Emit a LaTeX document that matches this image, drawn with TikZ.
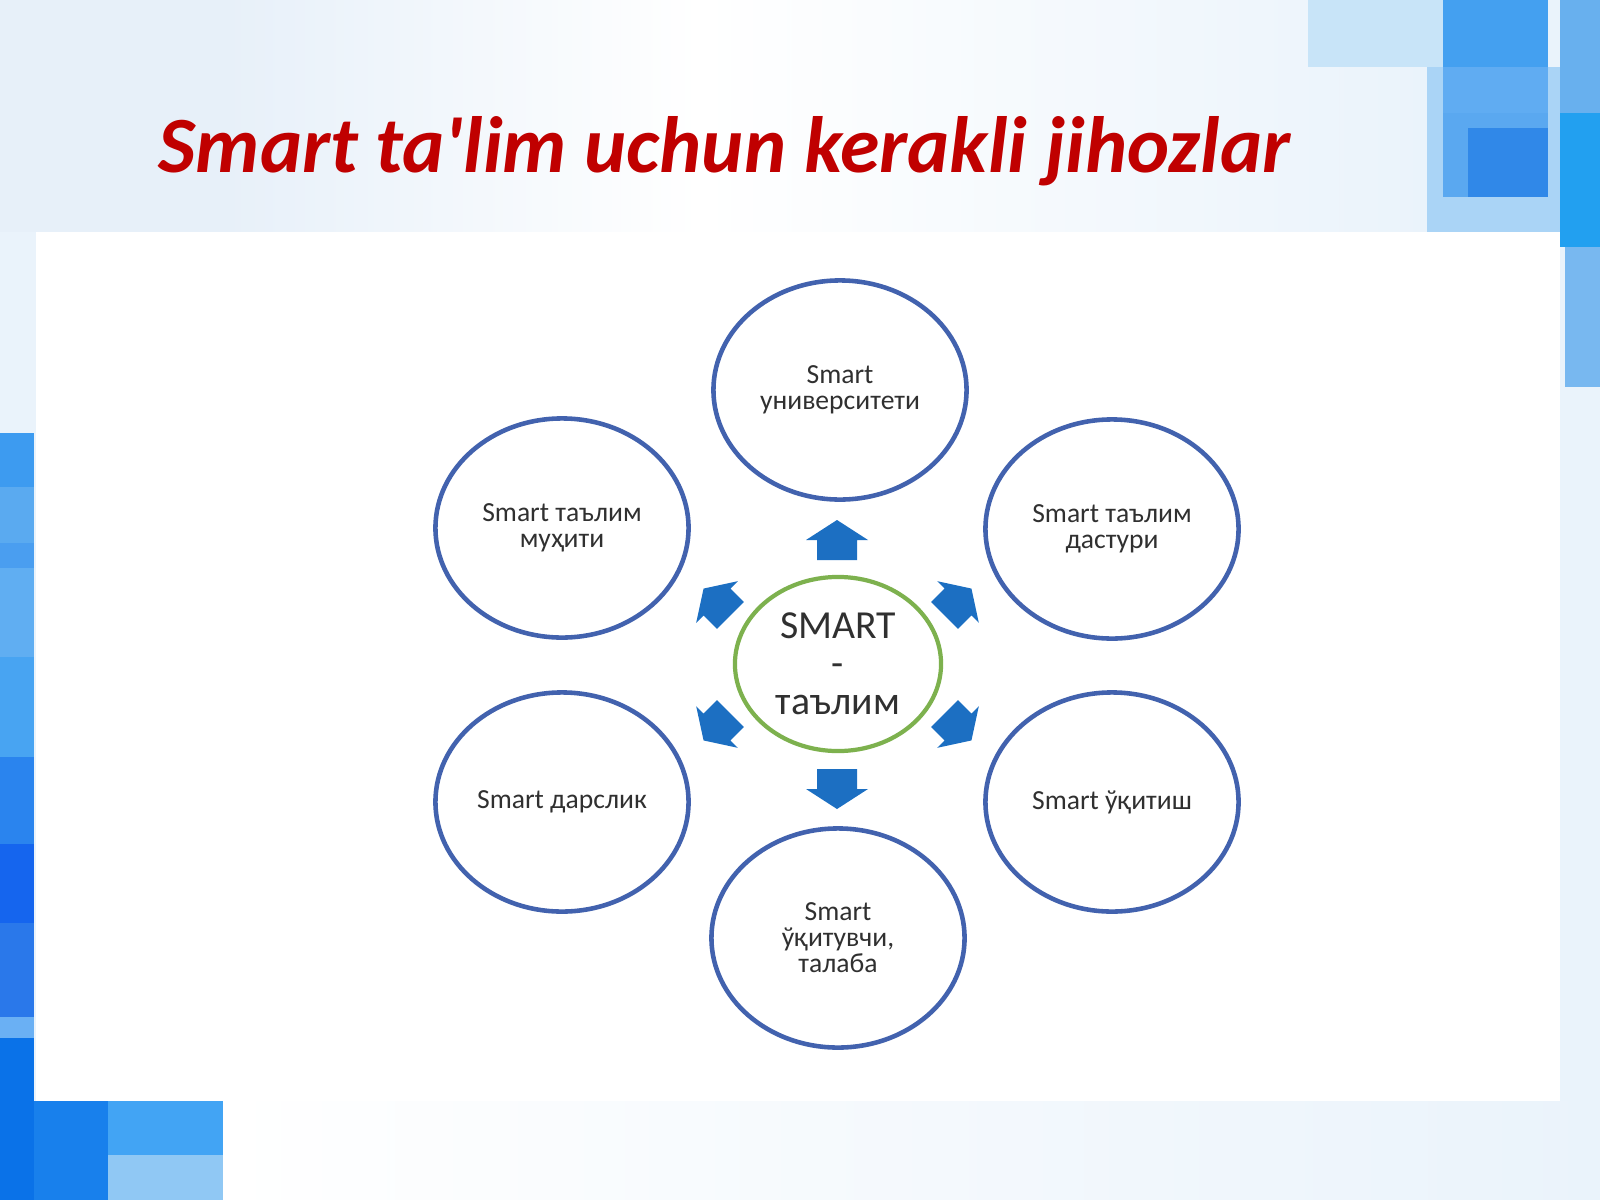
\documentclass[tikz,border=0pt]{standalone}
\usepackage{fontspec}
\setmainfont[Ligatures=TeXOff]{Carlito}
\usetikzlibrary{shapes.geometric}
\definecolor{bgblue}{HTML}{EAF3FB}
\definecolor{bgsquare}{HTML}{E7F0F9}
\definecolor{titlered}{HTML}{C00000}
\definecolor{ringblue}{HTML}{4262AE}
\definecolor{ringgreen}{HTML}{7DB14E}
\definecolor{arrowblue}{HTML}{1C6FC2}
\definecolor{txtgray}{HTML}{303030}
\newcommand\blkfill[5]{\definecolor{tmpblk}{HTML}{#1}\fill[tmpblk] (#2,#3) rectangle (#4,#5);}
\tikzset{
  ring/.style={ellipse, draw=ringblue, line width=1.3pt, fill=white,
    minimum width=2.53cm, minimum height=2.19cm, inner sep=0pt, outer sep=0pt,
    align=center, text=txtgray, font=\fontsize{7.85}{7.4}\selectfont},
  hub/.style={ellipse, draw=ringgreen, line width=1.2pt, fill=white,
    minimum width=2.06cm, minimum height=1.74cm, inner sep=0pt, outer sep=0pt,
    align=center, text=txtgray, font=\fontsize{11.3}{10.8}\selectfont},
  bluearrow/.pic={\fill[arrowblue] (-20,20) -- (-20,0) -- (-31,0) -- (0,-20)
     -- (31,0) -- (20,0) -- (20,20) -- cycle;}
}
\begin{document}
\begin{tikzpicture}[x=0.01cm,y=-0.01cm]
\useasboundingbox (0,0) rectangle (1600,1200);
% background
\fill[bgblue] (0,0) rectangle (1600,1200);
\fill[bgsquare] (0,0) rectangle (225,232);
\shade[left color=bgsquare, right color=white] (225,0) rectangle (700,232);
\shade[left color=white, right color=bgblue] (700,0) rectangle (1430,232);
\shade[left color=white, right color=bgblue] (223,1101) rectangle (1600,1200);
% top right blocks
\blkfill{C8E4F8}{1308}{0}{1443}{67}
\blkfill{AAD4F6}{1427}{67}{1560}{232}
\blkfill{44A0F0}{1443}{0}{1548}{67}
\blkfill{60ACF2}{1443}{67}{1548}{113}
\blkfill{5AA8F0}{1443}{113}{1548}{197}
\blkfill{3088E8}{1468}{128}{1548}{197}
\blkfill{68B0EE}{1560}{0}{1600}{113}
\blkfill{22A0F0}{1560}{113}{1600}{247}
\blkfill{78B8F0}{1565}{247}{1600}{387}
% left strip
\blkfill{3D9BF0}{0}{433}{34}{487}
\blkfill{5AAAF0}{0}{487}{34}{543}
\blkfill{4A9EF0}{0}{543}{34}{568}
\blkfill{60AEF2}{0}{568}{34}{657}
\blkfill{48A4F2}{0}{657}{34}{757}
\blkfill{2A84EE}{0}{757}{34}{844}
\blkfill{1565EE}{0}{844}{34}{923}
\blkfill{2A78EA}{0}{923}{34}{1017}
\blkfill{6AB0F4}{0}{1017}{34}{1038}
\blkfill{0A72E8}{0}{1038}{34}{1200}
\blkfill{1880EC}{34}{1101}{108}{1200}
\blkfill{42A4F4}{108}{1101}{223}{1155}
\blkfill{90C8F4}{108}{1155}{223}{1200}
% white panel
\fill[white] (36,232) rectangle (1560,1101);
% title
\node[anchor=base west, inner sep=0pt, text=titlered,
  font=\fontsize{22.7}{27}\selectfont\bfseries\itshape] (title) at (158,172)
  {Smart ta'lim uchun kerakli jihozlar};
% hub and rings
\node[hub] (hub) at (838,664) {SMART\\-\\таълим};
\node[ring] (top) at (840,390) {Smart\\университети};
\node[ring] (ul) at (562,528) {Smart таълим\\муҳити};
\node[ring] (ur) at (1112,529) {Smart таълим\\дастури};
\node[ring] (ll) at (562,802) {Smart дарслик};
\node[ring] (lr) at (1112,802) {Smart ўқитиш};
\node[ring] (bot) at (838,938) {Smart\\ўқитувчи,\\талаба};
% arrows
\pic (aup) at (837,540) {bluearrow};
\pic[rotate=180] (adn) at (837,789) {bluearrow};
\pic[rotate=45, scale=0.95] (aul) at (717,602) {bluearrow};
\pic[rotate=-45, scale=0.95] (aur) at (958,602) {bluearrow};
\pic[rotate=135, scale=0.95] (all) at (717,727) {bluearrow};
\pic[rotate=-135, scale=0.95] (alr) at (958,727) {bluearrow};
\end{tikzpicture}
\end{document}
